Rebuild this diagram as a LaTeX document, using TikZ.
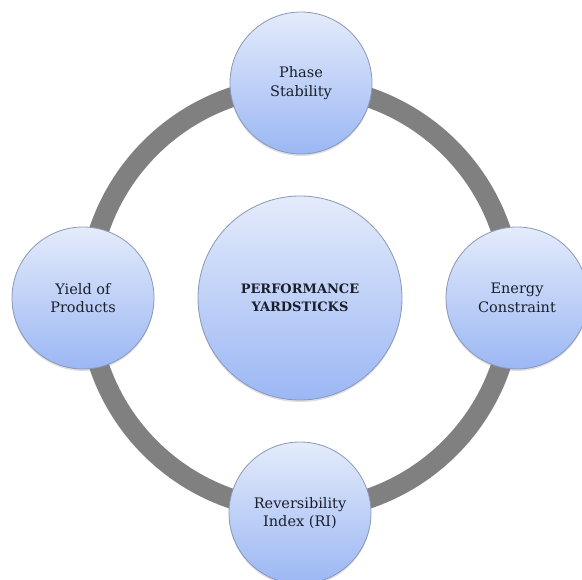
\documentclass[tikz,border=0pt]{standalone}
\usepackage{fontspec}
\setmainfont{DejaVu Serif}
\usetikzlibrary{shadows}
\definecolor{ringgray}{HTML}{808080}
\definecolor{ctop}{HTML}{E4EBFB}
\definecolor{cbot}{HTML}{9BB7F4}
\definecolor{cedge}{HTML}{8A98B8}
\definecolor{ctext}{HTML}{1A1F2A}
\tikzset{
  bubble/.style={circle, draw=cedge, line width=0.8pt, top color=ctop, bottom color=cbot,
    inner sep=0pt, align=center, text=ctext,
    drop shadow={opacity=0.25, shadow xshift=0pt, shadow yshift=-2pt},
    font=\fontsize{14.5}{18.5}\selectfont},
  small/.style={bubble, minimum size=142pt},
  big/.style={bubble, minimum size=204pt, font=\fontsize{13}{17.5}\selectfont\bfseries},
  ring/.style={draw=ringgray, line width=20pt}
}
\begin{document}
\begin{tikzpicture}[x=1pt,y=-1pt]
\useasboundingbox (0,0) rectangle (582,580);
\coordinate (o) at (300,298);
\draw[ring] (o) circle (212);
\node[big] (c) at (o) {PERFORMANCE\\YARDSTICKS};
\node[small] (t) at (301,83) {Phase\\Stability};
\node[small] (l) at (83,298) {Yield of\\Products};
\node[small] (r) at (517,298) {Energy\\Constraint};
\node[small] (b) at (300,513) {Reversibility\\Index (RI)};
\end{tikzpicture}
\end{document}
